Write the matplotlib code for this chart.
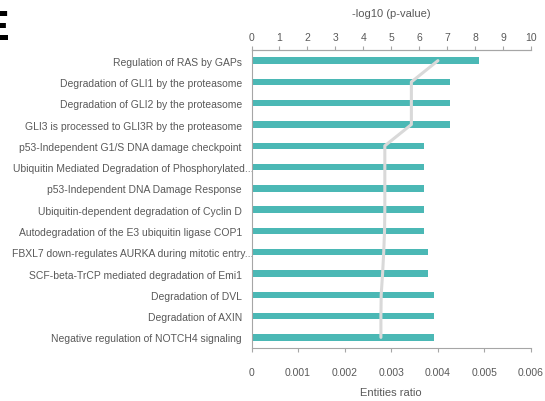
import matplotlib
matplotlib.use("Agg")
import matplotlib.pyplot as plt
import matplotlib.transforms as mtransforms

plt.rcParams["font.family"] = ["Liberation Sans", "DejaVu Sans"]

pathways = [
    "Regulation of RAS by GAPs",
    "Degradation of GLI1 by the proteasome",
    "Degradation of GLI2 by the proteasome",
    "GLI3 is processed to GLI3R by the proteasome",
    "p53-Independent G1/S DNA damage checkpoint",
    "Ubiquitin Mediated Degradation of Phosphorylated...",
    "p53-Independent DNA Damage Response",
    "Ubiquitin-dependent degradation of Cyclin D",
    "Autodegradation of the E3 ubiquitin ligase COP1",
    "FBXL7 down-regulates AURKA during mitotic entry...",
    "SCF-beta-TrCP mediated degradation of Emi1",
    "Degradation of DVL",
    "Degradation of AXIN",
    "Negative regulation of NOTCH4 signaling",
]
entities_ratio = [0.00488, 0.00426, 0.00426, 0.00426, 0.00371, 0.00371, 0.00371,
                  0.00371, 0.00371, 0.00378, 0.00378, 0.00391, 0.00391, 0.00391]
neg_log10_p = [6.67, 5.72, 5.72, 5.72, 4.77, 4.77, 4.77, 4.77, 4.76, 4.73,
               4.69, 4.64, 4.63, 4.63]
ratio_ticks = [0, 0.001, 0.002, 0.003, 0.004, 0.005, 0.006]
ratio_tick_labels = ["0", "0.001", "0.002", "0.003", "0.004", "0.005", "0.006"]
p_ticks = list(range(0, 11))

TEXT = "#595959"
AXIS = "#A6A6A6"
BAR = "#4BB8B5"
LINE = "#D9D9D9"

fig = plt.figure(figsize=(5.45, 4.02), dpi=100)
ax = fig.add_axes([0.4615, 0.1318, 0.9743 - 0.4615, 0.8731 - 0.1318])

ypos = list(range(len(pathways)))
ax.barh(ypos, entities_ratio, height=0.3, color=BAR, zorder=2)
ax.set_ylim(len(pathways) - 0.5, -0.5)
ax.set_xlim(0, 0.006)
ax.set_xticks(ratio_ticks)
ax.set_xticklabels(ratio_tick_labels)
ax.set_yticks(ypos)
ax.set_yticklabels(pathways)
ax.tick_params(axis="y", length=0, pad=7, labelsize=7.5, labelcolor=TEXT)
ax.tick_params(axis="x", length=3, width=0.8, color=AXIS, pad=11,
               labelsize=7.5, labelcolor=TEXT)
ax.set_xlabel("Entities ratio", fontsize=8, color=TEXT, labelpad=7)

# Truncated pathway names run slightly past the axis
shift = mtransforms.ScaledTranslation(12 / 100, 0, fig.dpi_scale_trans)
for lab in ax.get_yticklabels():
    if lab.get_text().endswith("..."):
        lab.set_transform(lab.get_transform() + shift)

ax.spines["right"].set_visible(False)
for side in ("left", "bottom", "top"):
    ax.spines[side].set_color(AXIS)
    ax.spines[side].set_linewidth(0.8)

# -log10(p-value) on the top axis
ax2 = ax.twiny()
ax2.plot(neg_log10_p, ypos, color=LINE, linewidth=2.2, solid_capstyle="round",
         solid_joinstyle="round", zorder=3)
ax2.set_xlim(0, 10)
ax2.set_xticks(p_ticks)
ax2.tick_params(axis="x", length=3, width=0.8, color=AXIS, pad=3,
                labelsize=7.5, labelcolor=TEXT)
ax2.set_xlabel("-log10 (p-value)", fontsize=8, color=TEXT, labelpad=11)
for side in ("right", "left", "bottom"):
    ax2.spines[side].set_visible(False)
ax2.spines["top"].set_color(AXIS)
ax2.spines["top"].set_linewidth(0.8)

# Panel letter
fig.text(-0.037, 0.978, "E", fontsize=31, fontweight="bold", color="black",
         ha="left", va="top")

fig.savefig("out.png", dpi=100)
